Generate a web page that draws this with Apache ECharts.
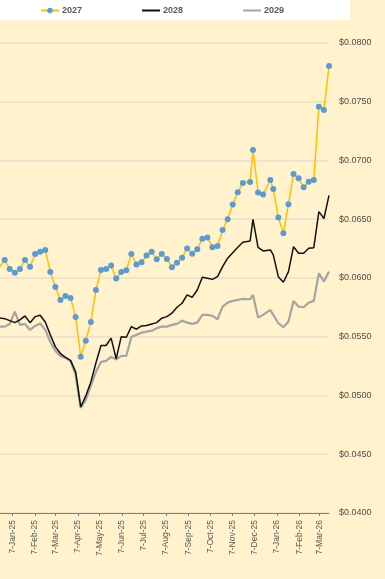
<!DOCTYPE html>
<html>
<head>
<meta charset="utf-8">
<script src="https://cdn.jsdelivr.net/npm/echarts@6/dist/echarts.min.js"></script>
<style>
html,body{margin:0;padding:0;background:#FFF2CC;}
#c{width:385px;height:579px;}
</style>
</head>
<body>
<div id="c"></div>
<script>
// Weekly observation dates
const dates = [
 '2024-12-20','2024-12-27','2025-01-03','2025-01-10','2025-01-17','2025-01-24','2025-01-31',
 '2025-02-07','2025-02-14','2025-02-21','2025-02-28','2025-03-07','2025-03-14','2025-03-21',
 '2025-03-28','2025-04-04','2025-04-11','2025-04-18','2025-04-25','2025-05-02','2025-05-09',
 '2025-05-16','2025-05-23','2025-05-30','2025-06-06','2025-06-13','2025-06-20','2025-06-27',
 '2025-07-04','2025-07-11','2025-07-18','2025-07-25','2025-08-01','2025-08-08','2025-08-15',
 '2025-08-22','2025-08-29','2025-09-05','2025-09-12','2025-09-19','2025-09-26','2025-10-03',
 '2025-10-10','2025-10-17','2025-10-24','2025-10-31','2025-11-07','2025-11-14','2025-11-21',
 '2025-12-01','2025-12-05','2025-12-12','2025-12-19','2025-12-29','2026-01-02','2026-01-09',
 '2026-01-16','2026-01-23','2026-01-30','2026-02-06','2026-02-13','2026-02-20','2026-02-27',
 '2026-03-06','2026-03-13','2026-03-20'
];
const s2027 = [
 0.06095,0.06152,0.06076,0.06044,0.06076,0.06152,0.06095,
 0.06203,0.06223,0.06237,0.06050,0.05923,0.05812,0.05846,
 0.05829,0.05668,0.05330,0.05464,0.05625,0.05897,0.06067,
 0.06076,0.06104,0.05995,0.06050,0.06065,0.06203,0.06114,
 0.06133,0.06191,0.06223,0.06159,0.06202,0.06161,0.06091,
 0.06128,0.06172,0.06250,0.06205,0.06243,0.06333,0.06344,
 0.06260,0.06271,0.06407,0.06499,0.06624,0.06728,0.06807,
 0.06816,0.07088,0.06726,0.06708,0.06833,0.06756,0.06514,
 0.06380,0.06627,0.06884,0.06847,0.06771,0.06818,0.06833,
 0.07456,0.07428,0.07802
];
const s2028 = [
 0.05659,0.05653,0.05636,0.05619,0.05642,0.05676,0.05619,
 0.05670,0.05682,0.05625,0.05515,0.05413,0.05356,0.05323,
 0.05298,0.05200,0.04902,0.04996,0.05115,0.05276,0.05425,
 0.05425,0.05487,0.05311,0.05500,0.05495,0.05585,0.05563,
 0.05591,0.05594,0.05608,0.05619,0.05657,0.05670,0.05699,
 0.05750,0.05784,0.05855,0.05835,0.05897,0.06005,0.05997,
 0.05987,0.06010,0.06095,0.06167,0.06214,0.06260,0.06303,
 0.06314,0.06498,0.06260,0.06229,0.06237,0.06195,0.06010,
 0.05963,0.06053,0.06265,0.06209,0.06209,0.06252,0.06257,
 0.06563,0.06505,0.06702
];
const s2029 = [
 0.05585,0.05585,0.05608,0.05713,0.05600,0.05608,0.05557,
 0.05591,0.05612,0.05557,0.05455,0.05379,0.05336,0.05319,
 0.05289,0.05174,0.04894,0.04962,0.05081,0.05200,0.05285,
 0.05294,0.05328,0.05306,0.05336,0.05336,0.05498,0.05515,
 0.05534,0.05543,0.05551,0.05572,0.05585,0.05585,0.05600,
 0.05608,0.05636,0.05619,0.05608,0.05619,0.05685,0.05685,
 0.05676,0.05648,0.05755,0.05789,0.05804,0.05812,0.05821,
 0.05818,0.05855,0.05662,0.05685,0.05727,0.05685,0.05614,
 0.05580,0.05628,0.05804,0.05755,0.05750,0.05789,0.05804,
 0.06039,0.05968,0.06053
];
// x-axis tick labels (7th of each month)
const tickDates = [
 '2025-01-07','2025-02-07','2025-03-07','2025-04-07','2025-05-07','2025-06-07','2025-07-07',
 '2025-08-07','2025-09-07','2025-10-07','2025-11-07','2025-12-07','2026-01-07','2026-02-07','2026-03-07'
];
const seriesNames = ['2027','2028','2029'];

function ts(s){const p=s.split('-').map(Number);return Date.UTC(p[0],p[1]-1,p[2]);}
const months=['Jan','Feb','Mar','Apr','May','Jun','Jul','Aug','Sep','Oct','Nov','Dec'];
const tickTs = tickDates.map(ts);
function pairs(arr){return dates.map((d,i)=>[ts(d),arr[i]]);}
function fmtDate(v){const d=new Date(v);return d.getUTCDate()+'-'+months[d.getUTCMonth()]+'-'+String(d.getUTCFullYear()).slice(2);}

const chart = echarts.init(document.getElementById('c'));
chart.setOption({
  backgroundColor:'#FFF2CC',
  animation:false,
  textStyle:{fontFamily:'Liberation Sans, Arial, sans-serif'},
  graphic:[{type:'rect',shape:{x:0,y:0,width:350,height:20},style:{fill:'#FFFFFF'},z:0}],
  legend:{
    left:40, top:6, padding:0, itemWidth:18, itemHeight:7, itemGap:59,
    textStyle:{color:'#595959',fontSize:9,fontWeight:'bold',padding:[0,0,0,-2]},
    data:[
      {name:seriesNames[0]},
      {name:seriesNames[1],itemStyle:{opacity:0}},
      {name:seriesNames[2],itemStyle:{opacity:0}}
    ]
  },
  grid:{left:0,right:56,top:42.7,bottom:66,containLabel:false},
  xAxis:{
    type:'value',
    min:Date.UTC(2024,11,20,12),
    max:Date.UTC(2026,2,20),
    axisLine:{show:true,onZero:false,lineStyle:{color:'#7F7F7F',width:1}},
    axisTick:{show:true,customValues:tickTs,length:3,lineStyle:{color:'#7F7F7F'}},
    axisLabel:{customValues:tickTs, rotate:90, margin:7, fontSize:8.5, color:'#595959', formatter:fmtDate},
    splitLine:{show:false}
  },
  yAxis:{
    type:'value', position:'right', min:0.04, max:0.08, interval:0.005,
    axisLine:{show:false}, axisTick:{show:false},
    axisLabel:{margin:10,fontSize:9,color:'#4D4D4D',formatter:function(v){return '$'+v.toFixed(4);}},
    splitLine:{lineStyle:{color:'#E4E0D2',width:1.5}}
  },
  series:[
    {name:'2027',type:'line',data:pairs(s2027),symbol:'circle',symbolSize:6,showSymbol:true,
     lineStyle:{color:'#FFC000',width:1.5},itemStyle:{color:'#5B9BD5'},z:5},
    {name:'2028',type:'line',data:pairs(s2028),symbol:'none',
     lineStyle:{color:'#111111',width:1.5},itemStyle:{color:'#111111'},z:4},
    {name:'2029',type:'line',data:pairs(s2029),symbol:'none',
     lineStyle:{color:'#A5A5A5',width:2.2},itemStyle:{color:'#A5A5A5'},z:3}
  ]
});
</script>
</body>
</html>
